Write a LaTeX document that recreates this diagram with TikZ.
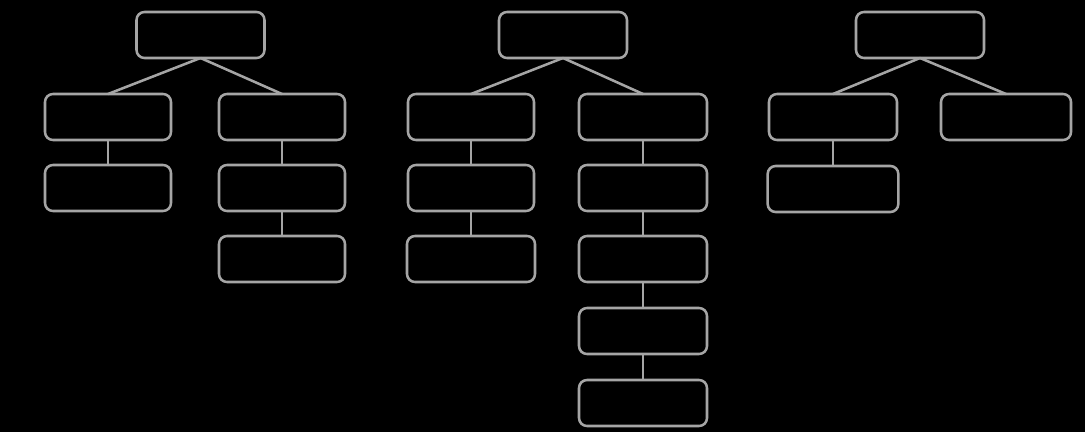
\documentclass[tikz,border=0pt]{standalone}
\begin{document}
\begin{tikzpicture}[x=0.75pt,y=-0.75pt]
% Define colors
\definecolor{boxgray}{RGB}{165,165,165}
\tikzset{
  box/.style={draw=boxgray, line width=1.9pt, rounded corners=6pt, fill=black,
    minimum width=94.5pt, minimum height=34.5pt, inner sep=0pt, outer sep=0pt},
  widebox/.style={box, minimum width=96pt},
  link/.style={draw=boxgray, line width=1.9pt}
}

% Background
\fill[black] (0,0) rectangle (1085,432);
\useasboundingbox (0,0) rectangle (1085,432);

% Tree 1
\node[widebox] (aroot) at (200.5,35) {};
\node[box] (aleft) at (108,117) {};
\node[box] (aright) at (282,117) {};
\node[box] (aleftA) at (108,188) {};
\node[box] (arightA) at (282,188) {};
\node[box] (arightB) at (282,259) {};
\draw[link] (aroot.south) -- (aleft.north);
\draw[link] (aroot.south) -- (aright.north);
\draw[link] (aleft.south) -- (aleftA.north);
\draw[link] (aright.south) -- (arightA.north);
\draw[link] (arightA.south) -- (arightB.north);

% Tree 2
\node[widebox] (broot) at (563,35) {};
\node[box] (bleft) at (471,117) {};
\node[box] (bleftA) at (471,188) {};
\node[widebox] (bleftB) at (471,259) {};
\node[widebox] (bright) at (643,117) {};
\node[widebox] (brightA) at (643,188) {};
\node[widebox] (brightB) at (643,259) {};
\node[widebox] (brightC) at (643,331) {};
\node[widebox] (brightD) at (643,403) {};
\draw[link] (broot.south) -- (bleft.north);
\draw[link] (broot.south) -- (bright.north);
\draw[link] (bleft.south) -- (bleftA.north);
\draw[link] (bleftA.south) -- (bleftB.north);
\draw[link] (bright.south) -- (brightA.north);
\draw[link] (brightA.south) -- (brightB.north);
\draw[link] (brightB.south) -- (brightC.north);
\draw[link] (brightC.south) -- (brightD.north);

% Tree 3
\node[widebox] (croot) at (920,35) {};
\node[widebox] (cleft) at (833,117) {};
\node[widebox, minimum width=97.5pt] (cright) at (1006,117) {};
\node[widebox, minimum width=98pt] (cleftA) at (833,189) {};
\draw[link] (croot.south) -- (cleft.north);
\draw[link] (croot.south) -- (cright.north);
\draw[link] (cleft.south) -- (cleftA.north);

\end{tikzpicture}
\end{document}
